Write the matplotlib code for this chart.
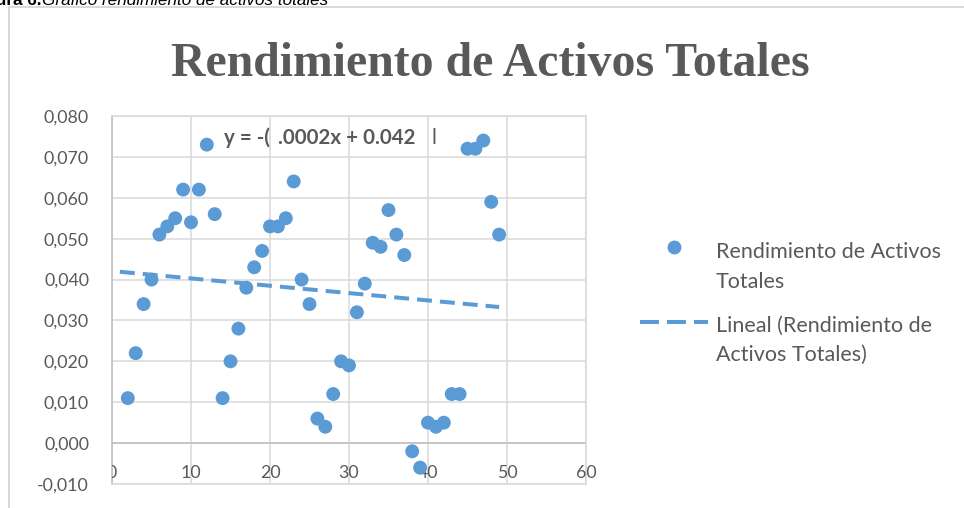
import numpy as np
import matplotlib
matplotlib.use('Agg')
from matplotlib import pyplot as plt
from matplotlib.patches import Rectangle
from matplotlib.lines import Line2D

# data
periodo = [2, 3, 4, 5, 6, 7, 8, 9, 10, 11, 12, 13, 14, 15, 16, 17, 18, 19, 20, 21, 22, 23, 24, 25,
           26, 27, 28, 29, 30, 31, 32, 33, 34, 35, 36, 37, 38, 39, 40, 41, 42, 43, 44, 45, 46, 47, 48, 49]
rendimiento = [0.011, 0.022, 0.034, 0.040, 0.051, 0.053, 0.055, 0.062, 0.054, 0.062, 0.073, 0.056,
               0.011, 0.020, 0.028, 0.038, 0.043, 0.047, 0.053, 0.053, 0.055, 0.064, 0.040, 0.034,
               0.006, 0.004, 0.012, 0.020, 0.019, 0.032, 0.039, 0.049, 0.048, 0.057, 0.051, 0.046,
               -0.002, -0.006, 0.005, 0.004, 0.005, 0.012, 0.012, 0.072, 0.072, 0.074, 0.059, 0.051]
x_ticks = [0, 10, 20, 30, 40, 50, 60]
y_ticks = [-0.01, 0.0, 0.01, 0.02, 0.03, 0.04, 0.05, 0.06, 0.07, 0.08]
tendencia_x = [1, 49]
etiquetas = ['Rendimiento de Activos\nTotales', 'Lineal (Rendimiento de\nActivos Totales)']

azul = '#5B9BD5'
gris_txt = '#595959'
gris_rejilla = '#D9D9D9'
gris_eje = '#BFBFBF'

plt.rcParams['font.family'] = ['Lato', 'DejaVu Sans']

W, H = 964, 508


def fx(px):
    return px / W


def fy(py):
    return 1 - py / H


fig = plt.figure(figsize=(9.64, 5.08), dpi=100, facecolor='w')
ax = fig.add_axes([fx(112), fy(484), 474 / W, 368 / H])

# chart frame, cut by the page on right and bottom
fig.patches.append(Rectangle((fx(9), -0.2), 1.2, fy(7) + 0.2, transform=fig.transFigure,
                             fill=False, edgecolor=gris_rejilla, linewidth=1.4))

# caption cut at the top
fig.text(fx(41), fy(5), 'Figura 6.', ha='right', va='baseline', fontsize=12.3,
         fontweight='bold', family='Liberation Sans', color='black')
fig.text(fx(42), fy(5), 'Gráfico rendimiento de activos totales', ha='left', va='baseline',
         fontsize=12.3, fontstyle='italic', family='Liberation Sans', color='black')

fig.text(fx(490), fy(76), 'Rendimiento de Activos Totales', ha='center', va='baseline',
         fontsize=34.4, fontweight='bold', family='Liberation Serif', color=gris_txt)

ax.set_xlim(0, 60)
ax.set_ylim(-0.01, 0.08)
ax.set_xticks(x_ticks)
ax.set_yticks(y_ticks)
ax.set_yticklabels([('%.3f' % v).replace('.', ',') for v in y_ticks])
ax.set_xticklabels([])
ax.tick_params(length=0, labelsize=12.8, labelcolor=gris_txt, pad=23 / 1.389)
ax.grid(True, color=gris_rejilla, linewidth=1.1)
ax.set_axisbelow(True)
for s in ['top', 'right', 'bottom']:
    ax.spines[s].set_color(gris_rejilla)
    ax.spines[s].set_linewidth(1.1)
ax.spines['left'].set_color(gris_eje)
ax.spines['left'].set_linewidth(1.1)
ax.axhline(0, color=gris_eje, linewidth=1.1, zorder=1)

# x labels sit just under the y=0 axis, the first one is cut by the plot edge
for t in x_ticks:
    ax.text(t, -0.0072, str(t), ha='center', va='center', fontsize=12.8, color=gris_txt,
            clip_on=(t == 0))

ax.scatter(periodo, rendimiento, s=100, color=azul, edgecolors='none', zorder=3)

coef = np.polyfit(periodo, rendimiento, 1)
tx = np.array(tendencia_x)
ax.plot(tx, np.polyval(coef, tx), color=azul, linewidth=2.9, dashes=(3.7, 2.0), zorder=2,
        solid_capstyle='butt')

# trend equation, partly hidden as in the original
ax.text(14.2, 0.0731, 'y = -(', fontsize=14.8, fontweight='bold', color=gris_txt, va='baseline')
ax.text(21.0, 0.0731, '.0002x + 0.042', fontsize=14.8, fontweight='bold', color=gris_txt,
        va='baseline')
ax.text(40.4, 0.0731, 'l', fontsize=14.8, color=gris_txt, va='baseline')

# legend, keys lined up with the first text line like Excel does
fig.add_artist(Line2D([fx(674)], [fy(247)], marker='o', markersize=10, color=azul,
                      markeredgecolor='none', linestyle='none', transform=fig.transFigure))
fig.add_artist(Line2D([fx(640), fx(708)], [fy(322), fy(322)], color=azul, linewidth=2.9,
                      dashes=(4.7, 2.0), transform=fig.transFigure))
fig.text(fx(716), fy(267), etiquetas[0], ha='left', va='center', fontsize=15.5,
         color=gris_txt, linespacing=1.67)
fig.text(fx(716), fy(340), etiquetas[1], ha='left', va='center', fontsize=15.5,
         color=gris_txt, linespacing=1.58)

fig.savefig('out.png', dpi=100)
